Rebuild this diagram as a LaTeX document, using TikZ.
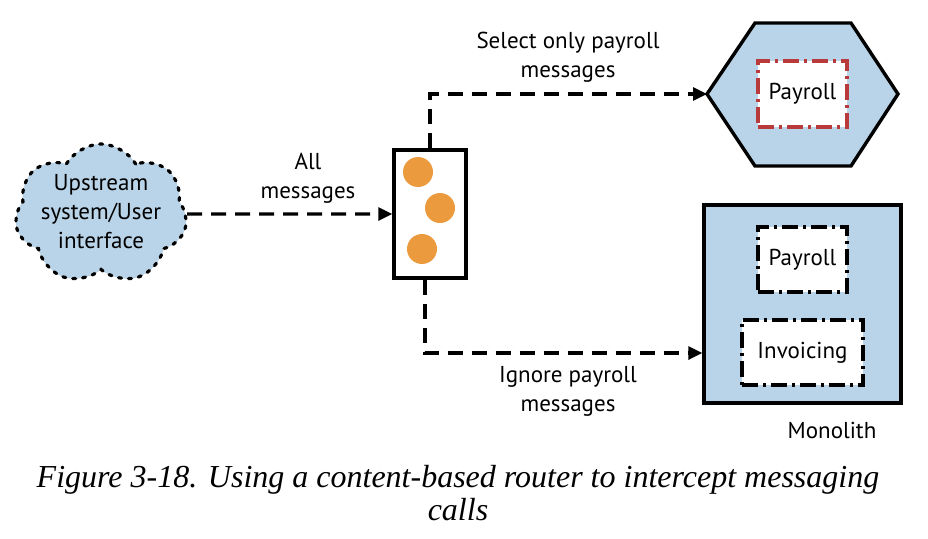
\documentclass[tikz,border=0pt]{standalone}
\usepackage{fontspec}
\setmainfont{Liberation Serif}
\newfontfamily\diag{PT Sans}
\usetikzlibrary{arrows.meta,shapes.symbols,positioning}
\definecolor{lblue}{HTML}{B9D4E8}
\definecolor{dorange}{HTML}{EC9A3E}
\definecolor{dred}{HTML}{B83A3A}
\tikzset{
  every node/.style={font=\diag\fontsize{23}{29}\selectfont, align=center},
  arr/.style={line width=3.1pt, dash pattern=on 15pt off 9pt, -{Triangle[length=14pt,width=13pt]}},
  dotline/.style={line width=3.2pt, line cap=round, dash pattern=on 3pt off 7pt},
  dashdot/.style={line width=3.2pt, dash pattern=on 16pt off 5pt on 3pt off 5pt},
  inbox/.style={rectangle, fill=white, dashdot, draw=black, inner sep=0pt},
  dot/.style={circle, fill=dorange, minimum size=30pt, inner sep=0pt},
}
\begin{document}
\begin{tikzpicture}[x=1pt,y=-1pt]
\useasboundingbox (0,0) rectangle (928,538);
% cloud
\node[cloud, cloud puffs=7, cloud puff arc=120, aspect=1.2, draw=black, fill=lblue, dotline,
  minimum width=172pt, minimum height=140pt, inner sep=0pt] (cloud) at (101,214) {};
\node (cloudtxt) at (101,212) {Upstream\\system/User\\interface};
% router
\node[rectangle, draw=black, line width=3.4pt, fill=white, minimum width=72pt, minimum height=128pt] (router) at (430,214) {};
\node[dot] (d1) at (418,172) {};
\node[dot] (d2) at (440,208) {};
\node[dot] (d3) at (422,249) {};
% hexagon
\draw[line width=3.4pt, fill=lblue, line join=miter] (707,94) -- (755,23) -- (851,23) -- (898,94) -- (851,166) -- (755,166) -- cycle;
\coordinate (hexw) at (707,94);
\node[inbox, draw=dred, minimum width=89pt, minimum height=66pt] (pay1) at (802.5,94) {Payroll};
% monolith
\node[rectangle, draw=black, line width=3.4pt, fill=lblue, minimum width=197pt, minimum height=198pt] (mono) at (802.5,304) {};
\node[inbox, minimum width=89pt, minimum height=65pt] (pay2) at (802.5,259.5) {Payroll};
\node[inbox, minimum width=121pt, minimum height=65pt] (inv) at (802.5,352.5) {Invoicing};
\node (monolbl) at (832,430) {Monolith};
% connectors
\draw[arr] (cloud.east) -- (router.west);
\node (l1) at (308,178) {All\\messages};
\draw[arr] (router.north) |- (hexw);
\node (l2) at (568,57) {Select only payroll\\messages};
\draw[arr] ([xshift=-5pt]router.south) |- ([yshift=-49pt]mono.west);
\node (l3) at (568,391) {Ignore payroll\\messages};
% caption
\node[font=\rmfamily\itshape\fontsize{32}{33}\selectfont] (cap) at (458,493) {Figure 3-18. Using a content-based router to intercept messaging\\calls};
\end{tikzpicture}
\end{document}
